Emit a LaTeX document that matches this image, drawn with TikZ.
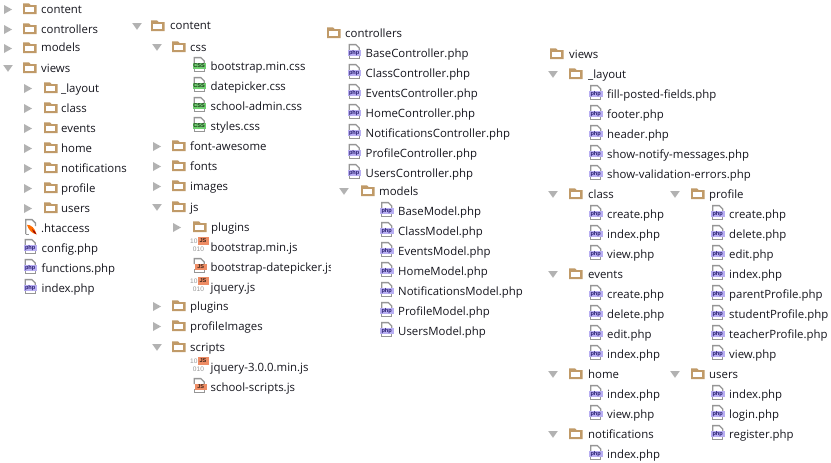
\documentclass[tikz,border=0pt]{standalone}
\usepackage{fontspec}
\setmainfont{Open Sans}
\newfontfamily\iconfont{Liberation Sans}

\definecolor{tree_brown}{RGB}{192,154,104}
\definecolor{tree_arrow}{RGB}{178,178,178}
\definecolor{tree_page}{RGB}{150,150,150}
\definecolor{tree_php}{RGB}{184,174,242}
\definecolor{tree_phptxt}{RGB}{40,30,110}
\definecolor{tree_css}{RGB}{112,208,112}
\definecolor{tree_js}{RGB}{238,140,100}
\definecolor{tree_txt}{RGB}{22,22,30}

\tikzset{
  rowtext/.style={anchor=west,inner sep=0pt,text=tree_txt,text height=9pt,text depth=1pt,font=\fontsize{11.4}{12}\selectfont},
  icontext/.style={inner sep=0pt,font=\iconfont\bfseries\fontsize{5.6}{6}\selectfont},
  bintext/.style={inner sep=0pt,text=tree_page,font=\iconfont\fontsize{6.6}{6}\selectfont},
  arrowright/.pic={\fill[tree_arrow] (-4,-4) -- (4,0.5) -- (-4,5) -- cycle;},
  arrowdown/.pic={\fill[tree_arrow] (-4.8,-3) -- (4.8,-3) -- (0,3.8) -- cycle;},
  foldericon/.pic={
    \fill[tree_brown] (0,-5.7) -- (6,-5.7) -- (7.5,-4) -- (13.5,-4) -- (13.5,5) -- (0,5) -- cycle;
    \fill[white] (2.1,-1.6) rectangle (11.4,3);
  },
  pageicon/.pic={
    \draw[tree_page,line width=1.3pt] (0.8,2) -- (0.8,5.2) -- (10.8,5.2) -- (10.8,2);
    \draw[tree_page,line width=1.3pt] (0.8,-3) -- (0.8,-8.4) -- (7.4,-8.4) -- (10.8,-5) -- (10.8,-3);
  },
  phpicon/.pic={
    \pic {pageicon};
    \fill[tree_php] (-1,-3.5) rectangle (12.5,3);
    \node[icontext,text=tree_phptxt] (lbl) at (5.7,-0.4) {php};
  },
  cssicon/.pic={
    \pic {pageicon};
    \fill[tree_css] (-1,-3.5) rectangle (12.5,3);
    \node[icontext,text=black!75!tree_css] (lbl) at (5.7,-0.4) {CSS};
  },
  jsicon/.pic={
    \pic {pageicon};
    \fill[tree_js] (1.5,-3.5) rectangle (13,3);
    \node[icontext,text=black!75!tree_js] (lbl) at (7.2,-0.4) {JS};
  },
  binicon/.pic={
    \node[bintext] (top) at (0.3,-5.4) {10};
    \node[bintext] (low) at (5,2.4) {010};
    \fill[tree_js] (4,-10.5) rectangle (15,-2.5);
    \node[icontext,text=black!75!tree_js] (lbl) at (9.5,-6.5) {JS};
  },
  hticon/.pic={
    \draw[tree_page,line width=1.3pt] (1.8,6.2) -- (1.8,-8.4) -- (8,-8.4) -- (11.4,-5) -- (11.4,-2);
    \draw[tree_page,line width=1.3pt] (1.8,6.2) -- (5,6.2);
    \fill[orange!85!red] (3,-3.2) .. controls (7,-3.4) and (11,0) .. (12.5,6.4) .. controls (8,5.5) and (4.5,2) .. cycle;
    \fill[red!60!black] (8,1.2) .. controls (10,2.2) and (11.8,4) .. (12.5,6.4) .. controls (10.5,6) and (9,4) .. cycle;
  }
}

% row macros: name, x of icon, y, label
\newcommand{\folderrow}[5]{%
  \pic at (#2,#4) {foldericon};
  \node[rowtext] (#1) at (#3,#4) {#5};
}
\newcommand{\filerow}[5]{%
  \pic (#1i) at (#3,#4) {#2};
  \node[rowtext] (#1) at (#3+17,#4) {#5};
}

\begin{document}
\begin{tikzpicture}[x=1pt,y=-1pt]
    \useasboundingbox (0,0) rectangle (831,463);
    \fill[white] (0,0) rectangle (831,463);

    % first column
    \foreach \y in {9,29,48} \pic at (8,\y) {arrowright};
    \pic at (8,68) {arrowdown};
    \folderrow{aContent}{23}{41}{9}{content}
    \folderrow{aControllers}{23}{41}{29}{controllers}
    \folderrow{aModels}{23}{41}{48}{models}
    \folderrow{aViews}{23}{41}{68}{views}
    \foreach \y/\lab in {88/\_layout,108/class,128/events,148/home,168/notifications,188/profile,208/users} {
      \pic at (28,\y) {arrowright};
      \folderrow{aSub\y}{44}{61}{\y}{\lab}
    }
    \filerow{aHt}{hticon}{24}{228}{.htaccess}
    \filerow{aConfig}{phpicon}{24.5}{248}{config.php}
    \filerow{aFunc}{phpicon}{24.5}{268}{functions.php}
    \filerow{aIndex}{phpicon}{24.5}{288}{index.php}

    % content
    \pic at (137,26) {arrowdown};
    \folderrow{bContent}{151}{170}{26}{content}
    \pic at (157,47) {arrowdown};
    \folderrow{bCss}{172}{190}{47}{css}
    \filerow{bCssA}{cssicon}{193.5}{66}{bootstrap.min.css}
    \filerow{bCssB}{cssicon}{193.5}{86}{datepicker.css}
    \filerow{bCssC}{cssicon}{193.5}{106}{school-admin.css}
    \filerow{bCssD}{cssicon}{193.5}{126}{styles.css}
    \foreach \y/\lab in {146/font-awesome,166/fonts,186/images,306/plugins,326/profileImages} {
      \pic at (157,\y) {arrowright};
      \folderrow{bDir\y}{172}{190}{\y}{\lab}
    }
    \pic at (157,207) {arrowdown};
    \folderrow{bJs}{172}{190}{207}{js}
    \pic at (177,227) {arrowright};
    \folderrow{bPlugins}{193}{211}{227}{plugins}
    \filerow{bJsA}{binicon}{193.5}{247}{bootstrap.min.js}
    \begin{scope}
      \clip (190,255) rectangle (330,278);
      \filerow{bJsB}{jsicon}{193.5}{267}{bootstrap-datepicker.js}
    \end{scope}
    \filerow{bJsC}{binicon}{193.5}{287}{jquery.js}
    \pic at (157,347) {arrowdown};
    \folderrow{bScripts}{172}{190}{347}{scripts}
    \filerow{bJsD}{binicon}{193.5}{367}{jquery-3.0.0.min.js}
    \filerow{bJsE}{jsicon}{193.5}{387}{school-scripts.js}

    % controllers and models
    \folderrow{cControllers}{327}{345}{33}{controllers}
    \foreach \y/\lab in {53/Base,73/Class,93/Events,113/Home,133/Notifications,153/Profile,173/Users} {
      \filerow{cCtrl\y}{phpicon}{348.5}{\y}{\lab Controller.php}
    }
    \pic at (344,191) {arrowdown};
    \folderrow{cModels}{361}{379}{191}{models}
    \foreach \y/\lab in {211/Base,231/Class,251/Events,271/Home,291/Notifications,311/Profile,331/Users} {
      \filerow{cMod\y}{phpicon}{381}{\y}{\lab Model.php}
    }

    % views
    \folderrow{dViews}{550}{569}{54}{views}
    \foreach \y/\lab in {74/\_layout,194/class,274/events,374/home,434/notifications} {
      \pic at (553,\y) {arrowdown};
      \folderrow{dDir\y}{569}{588}{\y}{\lab}
    }
    \foreach \y/\lab in {94/fill-posted-fields,114/footer,134/header,154/show-notify-messages,174/show-validation-errors,
      214/create,234/index,254/view,294/create,314/delete,334/edit,354/index,394/index,414/view,454/index} {
      \filerow{dFile\y}{phpicon}{590}{\y}{\lab.php}
    }

    \foreach \y/\lab in {194/profile,374/users} {
      \pic at (675,\y) {arrowdown};
      \folderrow{eDir\y}{691}{709}{\y}{\lab}
    }
    \foreach \y/\lab in {214/create,234/delete,254/edit,274/index,294/parentProfile,314/studentProfile,334/teacherProfile,354/view,
      394/index,414/login,434/register} {
      \filerow{eFile\y}{phpicon}{712}{\y}{\lab.php}
    }
\end{tikzpicture}
\end{document}
